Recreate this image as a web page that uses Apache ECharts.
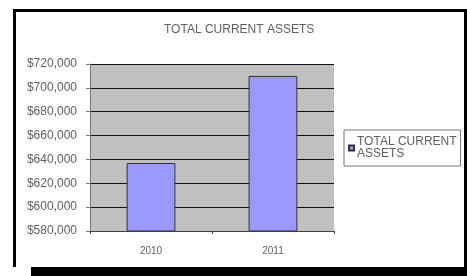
<!DOCTYPE html>
<html>
<head>
<meta charset="utf-8">
<script src="https://cdn.jsdelivr.net/npm/echarts@6/dist/echarts.min.js"></script>
<style>
  html, body { margin: 0; padding: 0; background: #fff; }
  #chart { width: 467px; height: 276px; }
</style>
</head>
<body>
<div id="chart"></div>
<script>
const years = ['2010', '2011'];
const totalCurrentAssets = [637000, 710000];
const seriesName = 'TOTAL CURRENT ASSETS';

let myChart = echarts.init(document.getElementById('chart'));
const txt = '#606060';
const option = {
    backgroundColor: '#fff',
    animation: false,
    title: {
        text: seriesName,
        left: 164,
        top: 24,
        padding: 0,
        textStyle: { fontFamily: 'Liberation Sans', fontSize: 12, fontWeight: 'normal', color: txt }
    },
    legend: {
        orient: 'vertical',
        left: 344,
        top: 130,
        width: 118,
        padding: [6, 4, 6, 4],
        borderColor: '#777',
        borderWidth: 1,
        itemWidth: 5,
        itemHeight: 5,
        itemGap: 2,
        icon: 'rect',
        formatter: function () { return 'TOTAL CURRENT\nASSETS'; },
        textStyle: { fontFamily: 'Liberation Sans', fontSize: 12, color: txt, lineHeight: 12, padding: [0, 0, 0, -2] },
        data: [seriesName]
    },
    grid: {
        left: 90, right: 133, top: 64, bottom: 45,
        show: true, backgroundColor: '#c0c0c0', borderWidth: 0
    },
    xAxis: {
        type: 'category',
        data: years,
        axisLine: { lineStyle: { color: '#444' } },
        axisTick: { show: true, length: 3, lineStyle: { color: '#444' } },
        axisLabel: { fontFamily: 'Liberation Sans', fontSize: 10, color: txt, margin: 15 }
    },
    yAxis: {
        type: 'value',
        min: 580000,
        max: 720000,
        interval: 20000,
        axisLine: { show: true, lineStyle: { color: '#777' } },
        axisTick: { show: true, length: 4, lineStyle: { color: '#777' } },
        splitLine: { lineStyle: { color: '#111', width: 1 } },
        axisLabel: {
            fontFamily: 'Liberation Sans', fontSize: 12, color: txt, margin: 13,
            formatter: function (v) { return '$' + v.toLocaleString('en-US'); }
        }
    },
    series: [{
        name: seriesName,
        type: 'bar',
        data: totalCurrentAssets,
        barWidth: '40%',
        itemStyle: { color: '#9999ff', borderColor: '#333', borderWidth: 1 }
    }],
    graphic: [
        { type: 'rect', shape: { x: 13, y: 9, width: 454, height: 3 }, style: { fill: '#000' }, z: 100 },
        { type: 'rect', shape: { x: 13, y: 9, width: 3, height: 258 }, style: { fill: '#000' }, z: 100 },
        { type: 'rect', shape: { x: 464, y: 9, width: 3, height: 267 }, style: { fill: '#000' }, z: 100 },
        { type: 'rect', shape: { x: 31, y: 267, width: 436, height: 9 }, style: { fill: '#000' }, z: 100 }
    ]
};
myChart.setOption(option);
</script>
</body>
</html>
